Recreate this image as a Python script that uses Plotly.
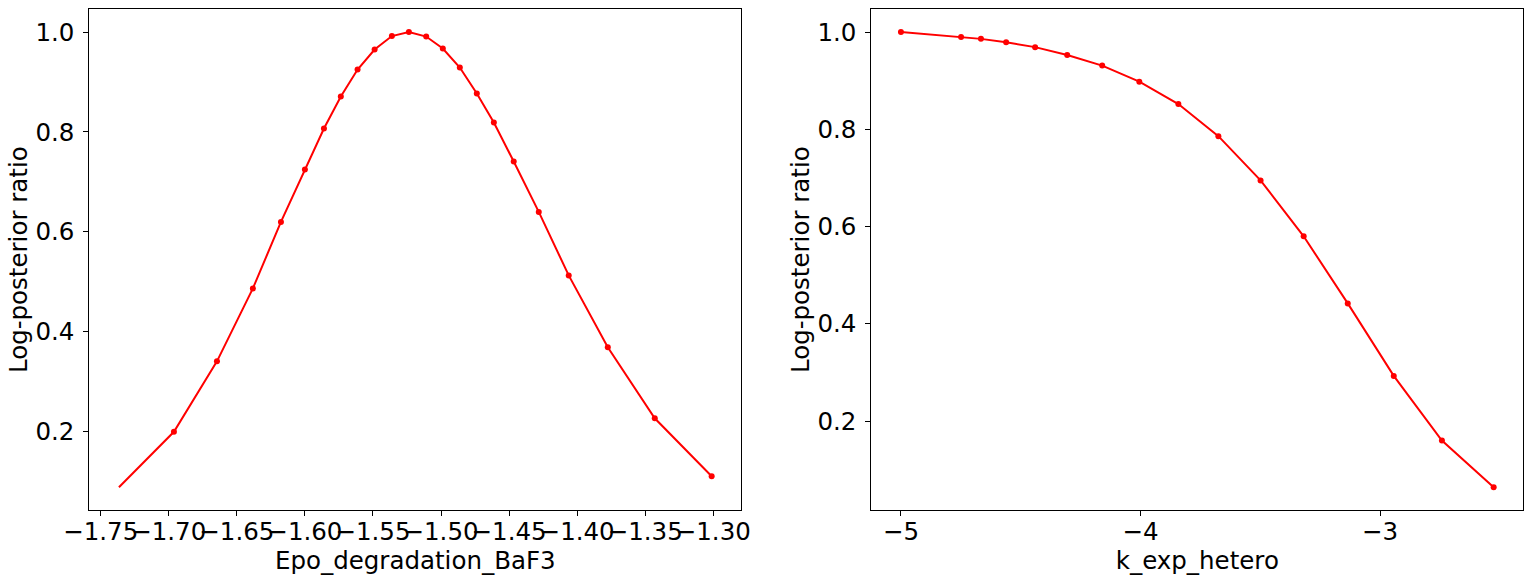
import plotly.graph_objects as go

# Left panel: Epo_degradation_BaF3 profile
epo_x = [-1.7366, -1.6962, -1.6646, -1.6382, -1.6176, -1.6000, -1.5860, -1.5736,
         -1.5613, -1.5488, -1.5361, -1.5236, -1.5109, -1.4987, -1.4862, -1.4737,
         -1.4612, -1.4466, -1.4282, -1.4062, -1.3775, -1.3430, -1.3012]
epo_y = [0.089, 0.200, 0.341, 0.487, 0.620, 0.725, 0.807, 0.871,
         0.925, 0.965, 0.992, 1.000, 0.991, 0.967, 0.929, 0.877,
         0.819, 0.741, 0.640, 0.513, 0.369, 0.227, 0.111]

# Right panel: k_exp_hetero profile
kexp_x = [-5.000, -4.749, -4.666, -4.561, -4.440, -4.306, -4.160, -4.005,
          -3.842, -3.675, -3.499, -3.319, -3.135, -2.943, -2.742, -2.526]
kexp_y = [1.000, 0.990, 0.986, 0.979, 0.969, 0.953, 0.931, 0.898,
          0.852, 0.786, 0.695, 0.580, 0.442, 0.293, 0.160, 0.064]

left_xticks = [-1.75, -1.70, -1.65, -1.60, -1.55, -1.50, -1.45, -1.40, -1.35, -1.30]
right_xticks = [-5, -4, -3]
yticks = [0.2, 0.4, 0.6, 0.8, 1.0]

RED = "#ff0000"
FONT = "DejaVu Sans"
FS = 24.5


def padded(vals, frac=0.05):
    lo, hi = min(vals), max(vals)
    p = (hi - lo) * frac
    return [lo - p, hi + p]


fig = go.Figure()
# left line (all points) + markers (first point drawn without marker)
fig.add_trace(go.Scatter(x=epo_x, y=epo_y, mode="lines",
                         line=dict(color=RED, width=2), xaxis="x", yaxis="y",
                         showlegend=False, hoverinfo="skip"))
fig.add_trace(go.Scatter(x=epo_x[1:], y=epo_y[1:], mode="markers",
                         marker=dict(color=RED, size=6), xaxis="x", yaxis="y",
                         showlegend=False))
fig.add_trace(go.Scatter(x=kexp_x, y=kexp_y, mode="lines+markers",
                         line=dict(color=RED, width=2),
                         marker=dict(color=RED, size=6), xaxis="x2", yaxis="y2",
                         showlegend=False))

axis_common = dict(showline=True, linecolor="black", linewidth=1.1, mirror=True,
                   showgrid=False, zeroline=False, ticks="outside", ticklen=5,
                   tickwidth=1.1, tickcolor="black", tickangle=0,
                   tickfont=dict(family=FONT, size=FS, color="black"),
                   automargin=False)

ydom = [(584 - 510) / 584, (584 - 9.3) / 584]

fig.update_layout(
    width=1532, height=584,
    margin=dict(l=0, r=0, t=0, b=0),
    paper_bgcolor="white", plot_bgcolor="white",
    font=dict(family=FONT, size=FS, color="black"),
    xaxis=dict(domain=[89.3 / 1532, 741.3 / 1532], range=padded(epo_x),
               tickvals=left_xticks, tickformat=".2f", ticklabelstandoff=-5,
               title=dict(text="Epo_degradation_BaF3", standoff=3,
                          font=dict(family=FONT, size=FS)),
               anchor="y", **axis_common),
    yaxis=dict(domain=ydom, range=padded(epo_y), tickvals=yticks, tickformat=".1f",
               ticklabelstandoff=4,
               title=dict(text="Log-posterior ratio", standoff=0,
                          font=dict(family=FONT, size=FS)),
               anchor="x", **axis_common),
    xaxis2=dict(domain=[871.3 / 1532, 1523.3 / 1532], range=padded(kexp_x),
                tickvals=right_xticks, tickformat="d", ticklabelstandoff=-5,
                title=dict(text="k_exp_hetero", standoff=3,
                           font=dict(family=FONT, size=FS)),
                anchor="y2", **axis_common),
    yaxis2=dict(domain=ydom, range=padded(kexp_y), tickvals=yticks, tickformat=".1f",
                ticklabelstandoff=4,
                title=dict(text="Log-posterior ratio", standoff=0,
                           font=dict(family=FONT, size=FS)),
                anchor="x2", **axis_common),
)

fig.write_html("out.html")
